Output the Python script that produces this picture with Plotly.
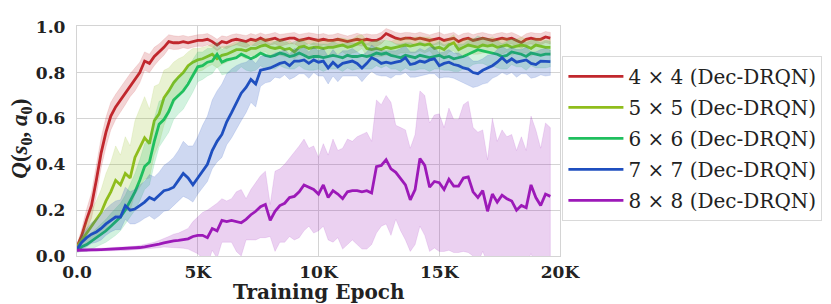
import plotly.graph_objects as go

# Training epochs (every 200 epochs)
epochs = [200 * i for i in range(99)]

labels = ["4 × 4 (Dec-DRQN)", "5 × 5 (Dec-DRQN)", "6 × 6 (Dec-DRQN)",
          "7 × 7 (Dec-DRQN)", "8 × 8 (Dec-DRQN)"]

red_mean = [0.04,0.09,0.16,0.22,0.33,0.45,0.54,0.61,0.65,0.68,
            0.715,0.745,0.77,0.80,0.85,0.84,0.87,0.89,0.91,0.935,
            0.93,0.93,0.935,0.93,0.935,0.94,0.94,0.945,0.935,0.92,
            0.935,0.93,0.94,0.945,0.94,0.935,0.945,0.94,0.95,0.94,
            0.945,0.95,0.94,0.945,0.95,0.95,0.94,0.945,0.95,0.945,
            0.94,0.945,0.94,0.94,0.945,0.94,0.935,0.94,0.945,0.94,
            0.945,0.94,0.94,0.95,0.97,0.96,0.95,0.945,0.95,0.95,
            0.945,0.95,0.945,0.94,0.945,0.95,0.94,0.945,0.95,0.935,
            0.945,0.95,0.94,0.945,0.95,0.945,0.94,0.945,0.95,0.945,
            0.95,0.94,0.93,0.945,0.95,0.945,0.945,0.955,0.95]
red_std = [0.01,0.03,0.045,0.055,0.065,0.065,0.065,0.06,0.055,0.055,
           0.055,0.05,0.05,0.045,0.04,0.04,0.04,0.035,0.035,0.03,
           0.03,0.028,0.027,0.026,0.025,0.025,0.026,0.025,0.024,0.025,
           0.025,0.026,0.025,0.024,0.025,0.026,0.025,0.024,0.023,0.025,
           0.024,0.025,0.026,0.025,0.024,0.025,0.026,0.025,0.024,0.025,
           0.026,0.025,0.024,0.025,0.026,0.025,0.024,0.025,0.026,0.025,
           0.024,0.025,0.026,0.025,0.022,0.024,0.025,0.026,0.025,0.024,
           0.025,0.026,0.025,0.024,0.025,0.026,0.025,0.024,0.025,0.026,
           0.025,0.024,0.025,0.026,0.025,0.024,0.025,0.026,0.025,0.024,
           0.025,0.026,0.025,0.024,0.025,0.026,0.025,0.024,0.025]

lime_mean = [0.04,0.07,0.10,0.13,0.16,0.19,0.24,0.28,0.33,0.31,
             0.36,0.34,0.43,0.47,0.515,0.49,0.59,0.62,0.69,0.72,
             0.755,0.78,0.80,0.83,0.845,0.855,0.86,0.87,0.88,0.86,
             0.875,0.88,0.89,0.90,0.90,0.895,0.905,0.905,0.915,0.92,
             0.91,0.905,0.91,0.90,0.905,0.89,0.91,0.915,0.905,0.91,
             0.91,0.905,0.91,0.91,0.915,0.92,0.91,0.915,0.925,0.935,
             0.905,0.90,0.905,0.90,0.91,0.905,0.91,0.915,0.92,0.915,
             0.92,0.925,0.92,0.925,0.905,0.91,0.90,0.92,0.93,0.90,
             0.91,0.92,0.915,0.91,0.92,0.915,0.92,0.91,0.915,0.92,
             0.91,0.915,0.92,0.915,0.905,0.92,0.915,0.91,0.91]
lime_std = [0.01,0.03,0.05,0.07,0.08,0.10,0.12,0.13,0.15,0.13,
            0.16,0.14,0.16,0.17,0.18,0.15,0.15,0.13,0.12,0.10,
            0.09,0.08,0.07,0.06,0.06,0.05,0.05,0.045,0.045,0.04,
            0.04,0.035,0.035,0.035,0.03,0.035,0.03,0.035,0.03,0.03,
            0.035,0.03,0.035,0.03,0.035,0.03,0.035,0.03,0.035,0.03,
            0.035,0.03,0.035,0.03,0.035,0.03,0.035,0.03,0.035,0.03,
            0.035,0.03,0.035,0.03,0.035,0.03,0.035,0.03,0.035,0.03,
            0.035,0.03,0.035,0.03,0.035,0.03,0.035,0.03,0.035,0.03,
            0.035,0.03,0.035,0.03,0.035,0.03,0.035,0.03,0.035,0.03,
            0.035,0.03,0.035,0.03,0.035,0.03,0.035,0.03,0.035]

green_mean = [0.025,0.04,0.05,0.065,0.08,0.095,0.11,0.13,0.15,0.17,
              0.20,0.24,0.28,0.33,0.39,0.41,0.50,0.575,0.595,0.63,
              0.68,0.70,0.72,0.75,0.785,0.825,0.83,0.845,0.85,0.88,
              0.845,0.855,0.86,0.865,0.88,0.87,0.86,0.87,0.885,0.875,
              0.87,0.875,0.885,0.88,0.87,0.875,0.885,0.875,0.865,0.87,
              0.87,0.865,0.87,0.875,0.87,0.865,0.875,0.87,0.87,0.875,
              0.87,0.875,0.885,0.88,0.885,0.875,0.87,0.865,0.875,0.87,
              0.865,0.875,0.87,0.865,0.87,0.875,0.865,0.87,0.86,0.865,
              0.87,0.88,0.89,0.90,0.895,0.89,0.885,0.88,0.87,0.875,
              0.89,0.885,0.88,0.87,0.885,0.88,0.875,0.88,0.88]
green_std = [0.01,0.02,0.03,0.035,0.04,0.045,0.05,0.055,0.06,0.06,
             0.065,0.07,0.08,0.09,0.10,0.10,0.10,0.10,0.09,0.09,
             0.085,0.08,0.08,0.075,0.07,0.065,0.06,0.06,0.055,0.055,
             0.055,0.06,0.055,0.06,0.055,0.06,0.055,0.06,0.055,0.06,
             0.055,0.06,0.055,0.06,0.055,0.06,0.055,0.06,0.055,0.06,
             0.055,0.06,0.055,0.06,0.055,0.06,0.055,0.06,0.055,0.06,
             0.055,0.06,0.055,0.06,0.055,0.06,0.055,0.06,0.055,0.06,
             0.055,0.06,0.055,0.06,0.055,0.06,0.055,0.06,0.055,0.06,
             0.055,0.06,0.055,0.06,0.055,0.06,0.055,0.06,0.055,0.06,
             0.055,0.06,0.055,0.06,0.055,0.06,0.055,0.06,0.055]

blue_mean = [0.03,0.06,0.08,0.095,0.105,0.12,0.14,0.155,0.17,0.17,
             0.22,0.20,0.205,0.22,0.235,0.255,0.245,0.265,0.285,0.29,
             0.30,0.33,0.36,0.34,0.31,0.34,0.37,0.40,0.46,0.50,
             0.53,0.585,0.625,0.67,0.71,0.735,0.77,0.75,0.81,0.815,
             0.82,0.83,0.84,0.845,0.83,0.85,0.85,0.855,0.84,0.855,
             0.845,0.85,0.82,0.845,0.825,0.84,0.845,0.85,0.84,0.82,
             0.84,0.865,0.855,0.84,0.845,0.84,0.845,0.85,0.865,0.835,
             0.84,0.85,0.845,0.855,0.86,0.83,0.84,0.845,0.835,0.83,
             0.82,0.815,0.80,0.795,0.81,0.82,0.83,0.845,0.865,0.845,
             0.86,0.845,0.85,0.855,0.84,0.835,0.85,0.85,0.848]
blue_up = [0.01,0.03,0.04,0.05,0.055,0.06,0.065,0.07,0.07,0.075,
           0.08,0.08,0.085,0.09,0.09,0.10,0.10,0.10,0.11,0.12,
           0.13,0.13,0.14,0.14,0.17,0.18,0.20,0.21,0.22,0.22,
           0.22,0.21,0.19,0.16,0.13,0.11,0.09,0.09,0.06,0.06,
           0.05,0.055,0.05,0.055,0.05,0.055,0.05,0.055,0.05,0.055,
           0.05,0.055,0.05,0.055,0.05,0.055,0.05,0.055,0.05,0.055,
           0.05,0.055,0.05,0.055,0.05,0.055,0.05,0.055,0.05,0.055,
           0.05,0.055,0.05,0.055,0.05,0.055,0.05,0.055,0.05,0.055,
           0.05,0.055,0.05,0.055,0.05,0.055,0.05,0.055,0.05,0.055,
           0.05,0.055,0.05,0.055,0.05,0.055,0.05,0.055,0.05]
blue_dn = [0.01,0.03,0.04,0.04,0.045,0.05,0.05,0.05,0.055,0.055,
           0.06,0.06,0.065,0.07,0.07,0.08,0.085,0.09,0.09,0.09,
           0.08,0.09,0.10,0.09,0.075,0.07,0.07,0.075,0.08,0.09,
           0.10,0.10,0.11,0.12,0.12,0.11,0.10,0.10,0.07,0.06,
           0.06,0.05,0.065,0.055,0.06,0.07,0.055,0.06,0.065,0.055,
           0.06,0.065,0.07,0.06,0.065,0.055,0.06,0.065,0.055,0.06,
           0.055,0.06,0.065,0.055,0.06,0.065,0.055,0.06,0.065,0.055,
           0.06,0.065,0.055,0.06,0.065,0.055,0.06,0.065,0.06,0.065,
           0.065,0.07,0.065,0.055,0.06,0.065,0.055,0.06,0.065,0.055,
           0.06,0.065,0.055,0.06,0.065,0.055,0.06,0.065,0.06]

purple_mean = [0.025,0.025,0.026,0.027,0.027,0.028,0.029,0.03,0.03,0.031,
               0.032,0.033,0.035,0.037,0.04,0.043,0.047,0.052,0.057,0.062,
               0.066,0.068,0.072,0.075,0.085,0.09,0.09,0.08,0.12,0.11,
               0.155,0.15,0.155,0.15,0.145,0.16,0.18,0.195,0.215,0.225,
               0.155,0.195,0.22,0.23,0.255,0.26,0.28,0.31,0.30,0.29,
               0.27,0.31,0.255,0.285,0.27,0.25,0.28,0.285,0.285,0.28,
               0.285,0.275,0.39,0.395,0.42,0.38,0.365,0.335,0.31,0.245,
               0.29,0.425,0.395,0.30,0.325,0.32,0.29,0.335,0.305,0.305,
               0.34,0.345,0.28,0.255,0.285,0.195,0.27,0.235,0.265,0.25,
               0.24,0.20,0.22,0.21,0.31,0.255,0.22,0.27,0.26]
purple_std = [0.005,0.005,0.005,0.005,0.006,0.006,0.006,0.006,0.007,0.007,
              0.008,0.008,0.008,0.009,0.01,0.012,0.013,0.016,0.018,0.023,
              0.029,0.032,0.038,0.045,0.065,0.08,0.10,0.12,0.095,0.12,
              0.095,0.09,0.095,0.13,0.145,0.09,0.11,0.125,0.135,0.145,
              0.07,0.175,0.16,0.17,0.17,0.19,0.20,0.20,0.17,0.19,
              0.16,0.18,0.185,0.225,0.19,0.22,0.23,0.215,0.235,0.25,
              0.255,0.225,0.29,0.265,0.28,0.29,0.205,0.225,0.24,0.225,
              0.24,0.295,0.305,0.28,0.29,0.30,0.27,0.31,0.29,0.29,
              0.32,0.33,0.28,0.285,0.265,0.225,0.33,0.265,0.285,0.27,
              0.29,0.26,0.30,0.25,0.30,0.295,0.25,0.31,0.30]

colors = ["#c1272d", "#8fbd1c", "#1fbf5e", "#1f4fbf", "#9c19b8"]
fills = ["rgba(193,39,45,0.2)", "rgba(143,189,28,0.2)", "rgba(31,191,94,0.2)",
         "rgba(31,79,191,0.22)", "rgba(156,25,184,0.2)"]

series = [
    (red_mean, [m + s for m, s in zip(red_mean, red_std)], [m - s for m, s in zip(red_mean, red_std)]),
    (lime_mean, [m + s for m, s in zip(lime_mean, lime_std)], [m - s for m, s in zip(lime_mean, lime_std)]),
    (green_mean, [m + s for m, s in zip(green_mean, green_std)], [m - s for m, s in zip(green_mean, green_std)]),
    (blue_mean, [m + s for m, s in zip(blue_mean, blue_up)], [m - s for m, s in zip(blue_mean, blue_dn)]),
    (purple_mean, [m + s for m, s in zip(purple_mean, purple_std)], [m - s for m, s in zip(purple_mean, purple_std)]),
]

fig = go.Figure()
for k, (mean, hi, lo) in enumerate(series):
    fig.add_trace(go.Scatter(
        x=epochs + epochs[::-1], y=hi + lo[::-1], fill="toself",
        fillcolor=fills[k], line=dict(width=0.6, color=fills[k]),
        hoverinfo="skip", showlegend=False, mode="lines"))
    fig.add_trace(go.Scatter(
        x=epochs, y=mean, mode="lines", name=labels[k],
        legendgroup=f"g{k}",
        line=dict(color=colors[k], width=2.8)))

grid = "#d4d4d4"
fig.update_layout(
    width=831, height=304,
    margin=dict(l=69, r=279, t=9, b=56),
    paper_bgcolor="white", plot_bgcolor="white",
    font=dict(family="DejaVu Serif", color="#222222"),
    showlegend=True,
    legend=dict(
        x=1.005, y=0.87, xanchor="left", yanchor="top",
        bordercolor="#d9d9d9", borderwidth=1, bgcolor="white",
        font=dict(family="DejaVu Serif", size=20, color="#222222"),
        tracegroupgap=2, traceorder="grouped", itemwidth=55,
    ),
    xaxis=dict(
        range=[0, 20000], tickvals=[0, 5000, 10000, 15000, 20000],
        ticktext=["<b>0.0</b>", "<b>5K</b>", "<b>10K</b>", "<b>15K</b>", "<b>20K</b>"],
        showgrid=True, gridcolor=grid, gridwidth=1.3,
        showline=True, linecolor=grid, linewidth=1.3, mirror=True,
        zeroline=False, ticks="", ticklabeloverflow="allow",
        tickfont=dict(size=17, family="DejaVu Serif"),
    ),
    yaxis=dict(
        range=[0, 1.003], tickvals=[0, 0.2, 0.4, 0.6, 0.8, 1.0],
        ticktext=["<b>0.0</b>", "<b>0.2</b>", "<b>0.4</b>", "<b>0.6</b>", "<b>0.8</b>", "<b>1.0</b>"],
        showgrid=True, gridcolor=grid, gridwidth=1.3,
        showline=True, linecolor=grid, linewidth=1.3, mirror=True,
        zeroline=False, ticks="outside", ticklen=7, tickcolor="rgba(0,0,0,0)",
        ticklabeloverflow="allow",
        tickfont=dict(size=17, family="DejaVu Serif"),
    ),
    annotations=[
        dict(text="<b><i>Q</i>(<i>s</i><sub>0</sub>, <i>a</i><sub>0</sub>)</b>",
             xref="paper", yref="paper", x=-0.116, y=0.51, xanchor="center", yanchor="middle",
             textangle=-90, showarrow=False,
             font=dict(size=23, family="Liberation Serif", color="#222222")),
        dict(text="<b>Training Epoch</b>",
             xref="paper", yref="paper", x=0.5, y=-0.155, xanchor="center", yanchor="middle",
             showarrow=False, font=dict(size=20, family="DejaVu Serif", color="#222222")),
    ],
)
fig.write_html("out.html")
